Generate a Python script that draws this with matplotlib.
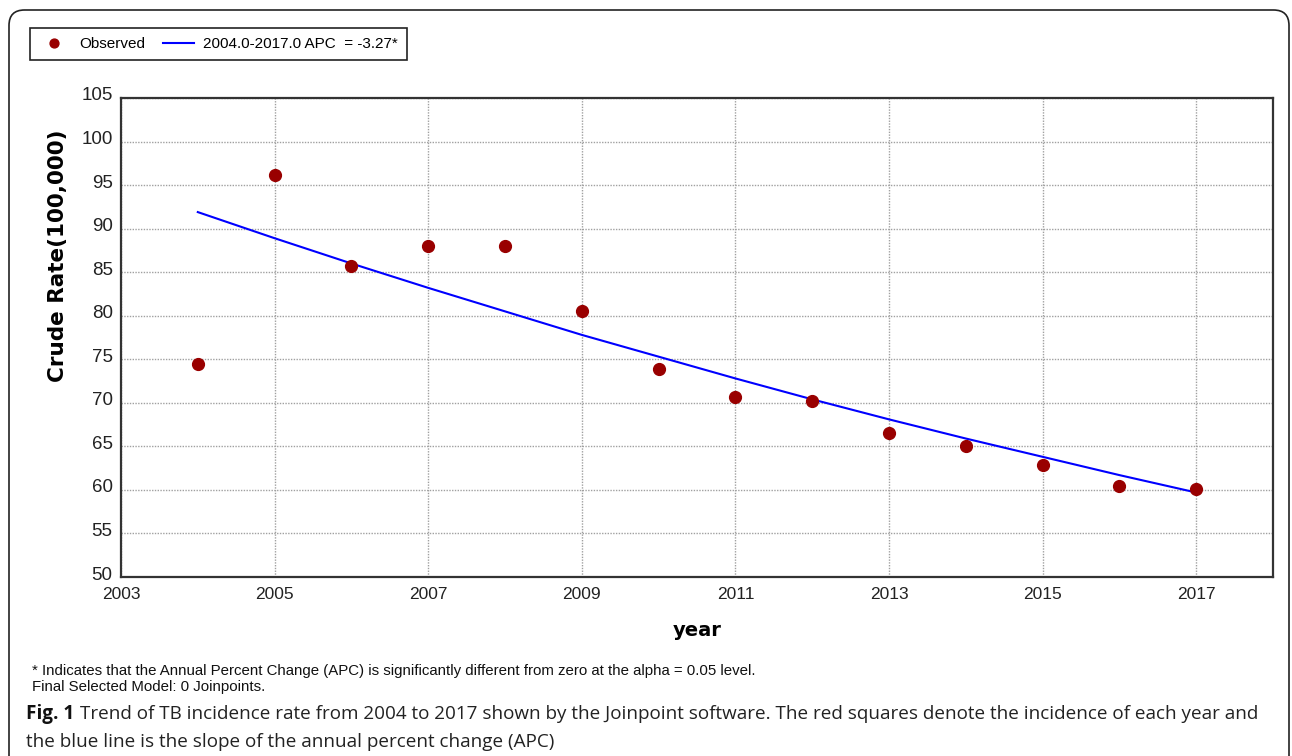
import matplotlib
matplotlib.use("Agg")
import matplotlib.pyplot as plt
import matplotlib.transforms as mtransforms
from matplotlib.patches import FancyBboxPatch

# observed crude incidence rate per 100,000
years = [2004, 2005, 2006, 2007, 2008, 2009, 2010, 2011, 2012, 2013, 2014, 2015, 2016, 2017]
observed = [74.5, 96.2, 85.7, 88.0, 88.0, 80.6, 73.9, 70.7, 70.2, 66.5, 65.0, 62.9, 60.4, 60.1]
# joinpoint modelled values (APC = -3.27)
modelled = [91.9, 88.9, 86.0, 83.2, 80.5, 77.8, 75.3, 72.8, 70.4, 68.1, 65.9, 63.8, 61.7, 59.7]

xticks = [2003, 2005, 2007, 2009, 2011, 2013, 2015, 2017]
yticks = [50, 55, 60, 65, 70, 75, 80, 85, 90, 95, 100, 105]

narrow = ["Liberation Sans Narrow", "Liberation Sans", "DejaVu Sans"]

fig = plt.figure(figsize=(12.92, 7.56), dpi=100)
W, H = 1292, 756

# rounded outer frame
frame = FancyBboxPatch((9 / W, -0.05), (1289 - 9) / W, (756 - 10) / H + 0.05,
                       boxstyle="round,pad=0,rounding_size=0.012",
                       transform=fig.transFigure, fill=False,
                       edgecolor="#222222", linewidth=1.2, mutation_aspect=W / H)
fig.patches.append(frame)

ax = fig.add_axes([121 / W, 1 - 577 / H, (1273 - 121) / W, (577 - 98) / H])
obs_line, = ax.plot(years, observed, linestyle="none", marker="o", markersize=8.5,
                    color="#990000", zorder=3)
fit_line, = ax.plot(years, modelled, color="#0000ff", linewidth=1.5, zorder=2)

ax.set_xlim(2003, 2018)
ax.set_ylim(50, 105)
ax.set_xticks(xticks)
ax.set_yticks(yticks)
ax.set_xticklabels([str(t) for t in xticks], fontfamily=narrow, fontsize=12.5, color="#222222")
ax.set_yticklabels([str(t) for t in yticks], fontfamily=narrow, fontsize=13.5, color="#222222")
ax.tick_params(axis="x", length=0, pad=7)
ax.tick_params(axis="y", length=0, pad=6)
# y labels sit a little above their gridlines
lift = mtransforms.ScaledTranslation(0, 4 / 100, fig.dpi_scale_trans)
for lbl in ax.get_yticklabels():
    lbl.set_transform(lbl.get_transform() + lift)
ax.grid(True, linestyle=(0, (1, 1)), color="#a0a0a0", linewidth=1.0)
for s in ax.spines.values():
    s.set_color("#333333")
    s.set_linewidth(1.6)

ax.set_ylabel("Crude Rate(100,000)", fontsize=15.5, fontweight="bold")
ax.yaxis.set_label_coords(-0.046, 0.67)
ax.set_xlabel("year", fontsize=14, fontweight="bold", labelpad=14)

leg = fig.legend([obs_line, fit_line], ["Observed", "2004.0-2017.0 APC  = -3.27*"],
                 loc="upper left", bbox_to_anchor=(30 / W, 1 - 28 / H), ncol=2,
                 borderaxespad=0, fancybox=False, edgecolor="#222222", framealpha=1,
                 prop={"family": narrow, "size": 11}, handlelength=2.0,
                 columnspacing=1.2, borderpad=0.6, handletextpad=0.6,
                 markerscale=0.75)
leg.get_frame().set_linewidth(1.2)

fig.text(32 / W, 1 - 671 / H, "* Indicates that the Annual Percent Change (APC) is significantly different from zero at the alpha = 0.05 level.",
         fontfamily=narrow, fontsize=10.8, va="center", color="#111111")
fig.text(32 / W, 1 - 687 / H, "Final Selected Model: 0 Joinpoints.",
         fontfamily=narrow, fontsize=10.8, va="center", color="#111111")

# caption, bold label followed by normal text
fig.canvas.draw()
r = fig.canvas.get_renderer()
lab = fig.text(26 / W, 1 - 714 / H, "Fig. 1", fontfamily="Open Sans", fontweight="bold",
               fontsize=13.6, va="center", color="#111111")
bb = lab.get_window_extent(renderer=r)
fig.text(bb.x1 / W + 6 / W, 1 - 714 / H,
         "Trend of TB incidence rate from 2004 to 2017 shown by the Joinpoint software. The red squares denote the incidence of each year and",
         fontfamily="Open Sans", fontsize=13.6, va="center", color="#222222")
fig.text(26 / W, 1 - 742 / H, "the blue line is the slope of the annual percent change (APC)",
         fontfamily="Open Sans", fontsize=13.6, va="center", color="#222222")

fig.savefig("out.png", dpi=100)
